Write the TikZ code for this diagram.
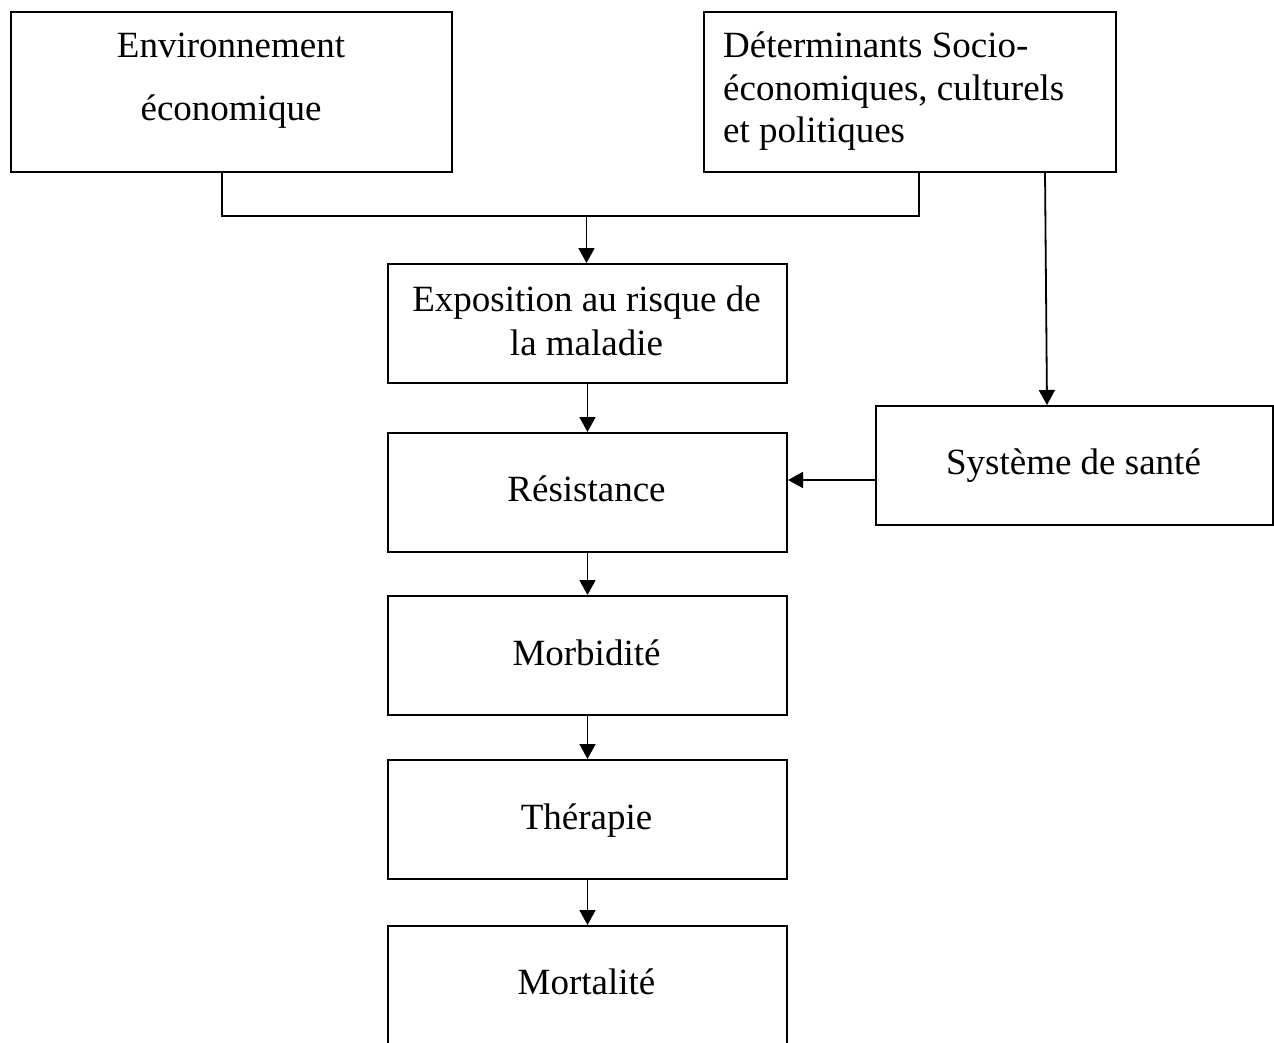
\documentclass[tikz,border=0pt]{standalone}
\usepackage{fontspec}
\setmainfont{Liberation Serif}
\usetikzlibrary{arrows.meta}
\begin{document}
\begin{tikzpicture}[x=1pt,y=-1pt,
  box/.style={draw, line width=2pt, rectangle, inner sep=0pt, anchor=north west},
  txt/.style={inner sep=0pt, font=\fontsize{37}{44}\selectfont},
  conn/.style={line width=1.8pt},
  arr/.style={conn, -{Triangle[width=16pt,length=15pt]}}]
  \useasboundingbox (0,0) rectangle (1274,1042);
  \clip (0,0) rectangle (1274,1042);

  % boxes
  \node[box, minimum width=441pt, minimum height=160pt] (env)  at (10,11)  {};
  \node[box, minimum width=412pt, minimum height=160pt] (det)  at (703,11) {};
  \node[box, minimum width=399pt, minimum height=119pt] (expo) at (387,263) {};
  \node[box, minimum width=399pt, minimum height=119pt] (res)  at (387,432) {};
  \node[box, minimum width=397pt, minimum height=119pt] (sys)  at (875,405) {};
  \node[box, minimum width=399pt, minimum height=119pt] (morb) at (387,595) {};
  \node[box, minimum width=399pt, minimum height=119pt] (ther) at (387,759) {};
  \node[box, minimum width=399pt, minimum height=180pt] (mort) at (387,925) {};

  % labels
  \node[txt, anchor=base] (envA) at (231,57)  {Environnement};
  \node[txt, anchor=base] (envB) at (231,120) {économique};
  \node[txt, anchor=base west] (detA) at (723,57)  {Déterminants Socio-};
  \node[txt, anchor=base west] (detB) at (723,100) {économiques, culturels};
  \node[txt, anchor=base west] (detC) at (723,142) {et politiques};
  \node[txt, anchor=base] (expoA) at (586.5,311) {Exposition au risque de};
  \node[txt, anchor=base] (expoB) at (586.5,355) {la maladie};
  \node[txt, anchor=base] (resT)  at (586.5,501) {Résistance};
  \node[txt, anchor=base] (sysT)  at (1073.5,474) {Système de santé};
  \node[txt, anchor=base] (morbT) at (586.5,665) {Morbidité};
  \node[txt, anchor=base] (therT) at (586.5,829) {Thérapie};
  \node[txt, anchor=base] (mortT) at (586.5,994) {Mortalité};

  % connector points
  \coordinate (envout) at (222,171);
  \coordinate (detout) at (919,171);
  \coordinate (split)  at (586.5,216);
  \coordinate (detsys) at (1045,171);
  \coordinate (sysin)  at (1047,405);
  \coordinate (sysres) at (875,480);

  % connectors
  \draw[conn] (envout) |- (split) -| (detout);
  \draw[arr] (split) -- (split |- expo.north);
  \draw[arr] (detsys) -- (sysin);
  \draw[arr] (sysres) -- (res.east |- sysres);
  \draw[arr] (expo.south) -- (res.north);
  \draw[arr] (res.south) -- (morb.north);
  \draw[arr] (morb.south) -- (ther.north);
  \draw[arr] (ther.south) -- (mort.north);
\end{tikzpicture}
\end{document}
